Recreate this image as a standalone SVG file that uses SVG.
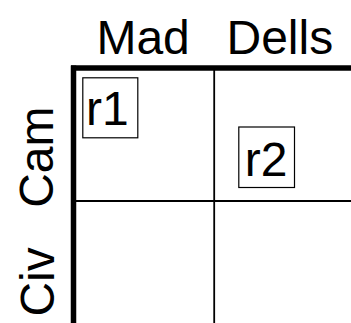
<svg xmlns="http://www.w3.org/2000/svg" width="351" height="323" viewBox="0 0 351 323">
<style>
text{font-family:"Liberation Sans",Arial,Helvetica,sans-serif;font-size:48px;fill:#000}
.thick{stroke:#000;stroke-width:5.5;fill:none}
.thin{stroke:#000;stroke-width:1.8;fill:none}
.box{stroke:#000;stroke-width:1.2;fill:#fff}
</style>
<rect width="351" height="323" fill="#fff"/>
<g id="connectors">
<line class="thick" x1="71" y1="68" x2="351" y2="68"/>
<line class="thick" x1="73.5" y1="65.5" x2="73.5" y2="323"/>
<line class="thin" x1="214.2" y1="70" x2="214.2" y2="323"/>
<line class="thin" x1="76" y1="201" x2="351" y2="201"/>
</g>
<g id="col-mad"><text x="96.4" y="54">Mad</text></g>
<g id="col-dells"><text x="226.5" y="54">Dells</text></g>
<g id="row-cam"><text transform="translate(53,207.8) rotate(-90)">Cam</text></g>
<g id="row-civ"><text transform="translate(54,316.6) rotate(-90)">Civ</text></g>
<g id="r1"><rect class="box" x="82.8" y="77.8" width="55" height="60"/><text x="86.1" y="125">r1</text></g>
<g id="r2"><rect class="box" x="238.8" y="127" width="55.7" height="60.5"/><text x="244.8" y="176">r2</text></g>
</svg>
